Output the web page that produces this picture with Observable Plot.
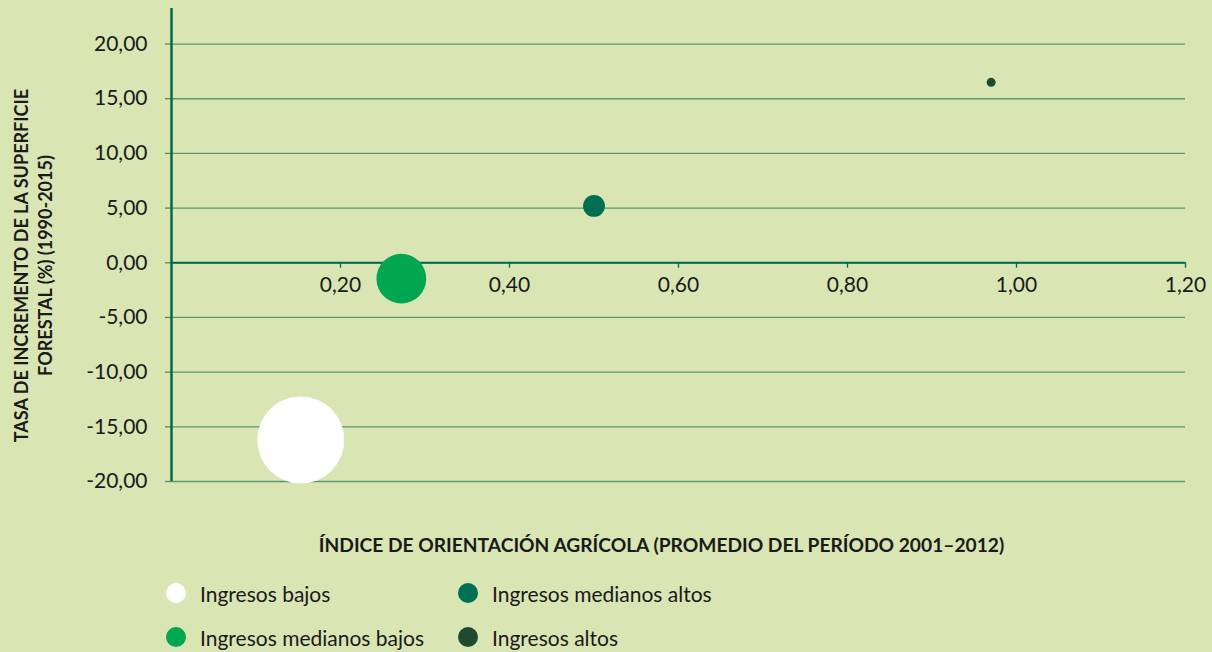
<!DOCTYPE html>
<html><head><meta charset="utf-8">
<script src="https://cdn.jsdelivr.net/npm/d3@7"></script>
<script src="https://cdn.jsdelivr.net/npm/@observablehq/plot@0.6"></script>
<style>
html,body{margin:0;padding:0;background:#d9e5b3;}
body{width:1212px;height:652px;overflow:hidden;font-family:Lato, "Open Sans", sans-serif;color:#1a1a1a;}
#chart{height:575px;}
#legend{position:relative;height:77px;}
.item{position:absolute;display:flex;align-items:center;font-size:21px;height:26px;white-space:nowrap;}
.sw{width:20px;height:20px;border-radius:50%;margin-right:14px;}
</style></head><body><div id="chart"></div><div id="legend"></div>
<script>
const groups = ["Ingresos bajos","Ingresos medianos bajos","Ingresos medianos altos","Ingresos altos"];
const orientation = [0.153, 0.272, 0.50, 0.97];
const forestGrowth = [-16.2, -1.45, 5.2, 16.5];
const bubbleSize = [95, 31, 6, 1];
const groupColors = ["#ffffff","#00a650","#006f52","#1f4a30"];
const xTicks = [0.2,0.4,0.6,0.8,1.0,1.2];
const yTicks = [-20,-15,-10,-5,0,5,10,15,20];
const xTitle = "ÍNDICE DE ORIENTACIÓN AGRÍCOLA (PROMEDIO DEL PERÍODO 2001–2012)";
const yTitle = "TASA DE INCREMENTO DE LA SUPERFICIE\nFORESTAL (%) (1990-2015)";

const data = groups.map((g,i)=>({group:g, x:orientation[i], y:forestGrowth[i], size:bubbleSize[i]}));
const fmt = d => d.toFixed(2).replace(".", ",");
const axisColor = "#006a4e";
const gridColor = "#4a9064";

const plot = Plot.plot({
  width:1212, height:575,
  marginLeft:171, marginRight:27, marginTop:8, marginBottom:94,
  style:{background:"transparent", fontFamily:"Lato, 'Open Sans', sans-serif", fontSize:"21px", color:"#1a1a1a", overflow:"visible"},
  x:{domain:[0,1.2], axis:null},
  y:{domain:[-20,23.25], axis:null},
  r:{domain:[0,95], range:[0,43.5]},
  color:{domain:groups, range:groupColors},
  marks:[
    Plot.gridY(yTicks, {stroke:gridColor, strokeOpacity:0.9, strokeWidth:1.3}),
    Plot.axisY(yTicks, {tickSize:6, tickPadding:18, tickFormat:fmt, stroke:gridColor, strokeWidth:1.3, fontSize:21, label:null, fill:"#1a1a1a"}),
    Plot.ruleY([0], {stroke:axisColor, strokeWidth:2.2}),
    Plot.ruleX([0], {stroke:axisColor, strokeWidth:2.5}),
    Plot.ruleX(xTicks, {x:d=>d, y1:0, y2:-0.5, stroke:axisColor, strokeWidth:1.3}),
    Plot.text(xTicks, {x:d=>d, y:0, dy:22, text:fmt, fontSize:21, fill:"#1a1a1a"}),
    Plot.dot(data, {x:"x", y:"y", r:"size", fill:"group"}),
    Plot.text([xTitle], {frameAnchor:"bottom", dx:-17, dy:70, fontSize:19.2, fontWeight:"bold", fill:"#1a1a1a"}),
    Plot.text([yTitle], {frameAnchor:"left", textAnchor:"middle", dx:-139, dy:20.5, rotate:-90, fontSize:18, fontWeight:"bold", lineHeight:1.3, fill:"#1a1a1a"})
  ]
});
document.getElementById("chart").appendChild(plot);

const legend = document.getElementById("legend");
const pos = [[166,5],[166,49],[458,5],[458,49]];
groups.forEach((g,i)=>{
  const it = document.createElement("div");
  it.className="item";
  it.style.left = pos[i][0]+"px";
  it.style.top = pos[i][1]+"px";
  it.innerHTML = `<span class="sw" style="background:${groupColors[i]}"></span><span>${g}</span>`;
  legend.appendChild(it);
});
</script></body></html>
